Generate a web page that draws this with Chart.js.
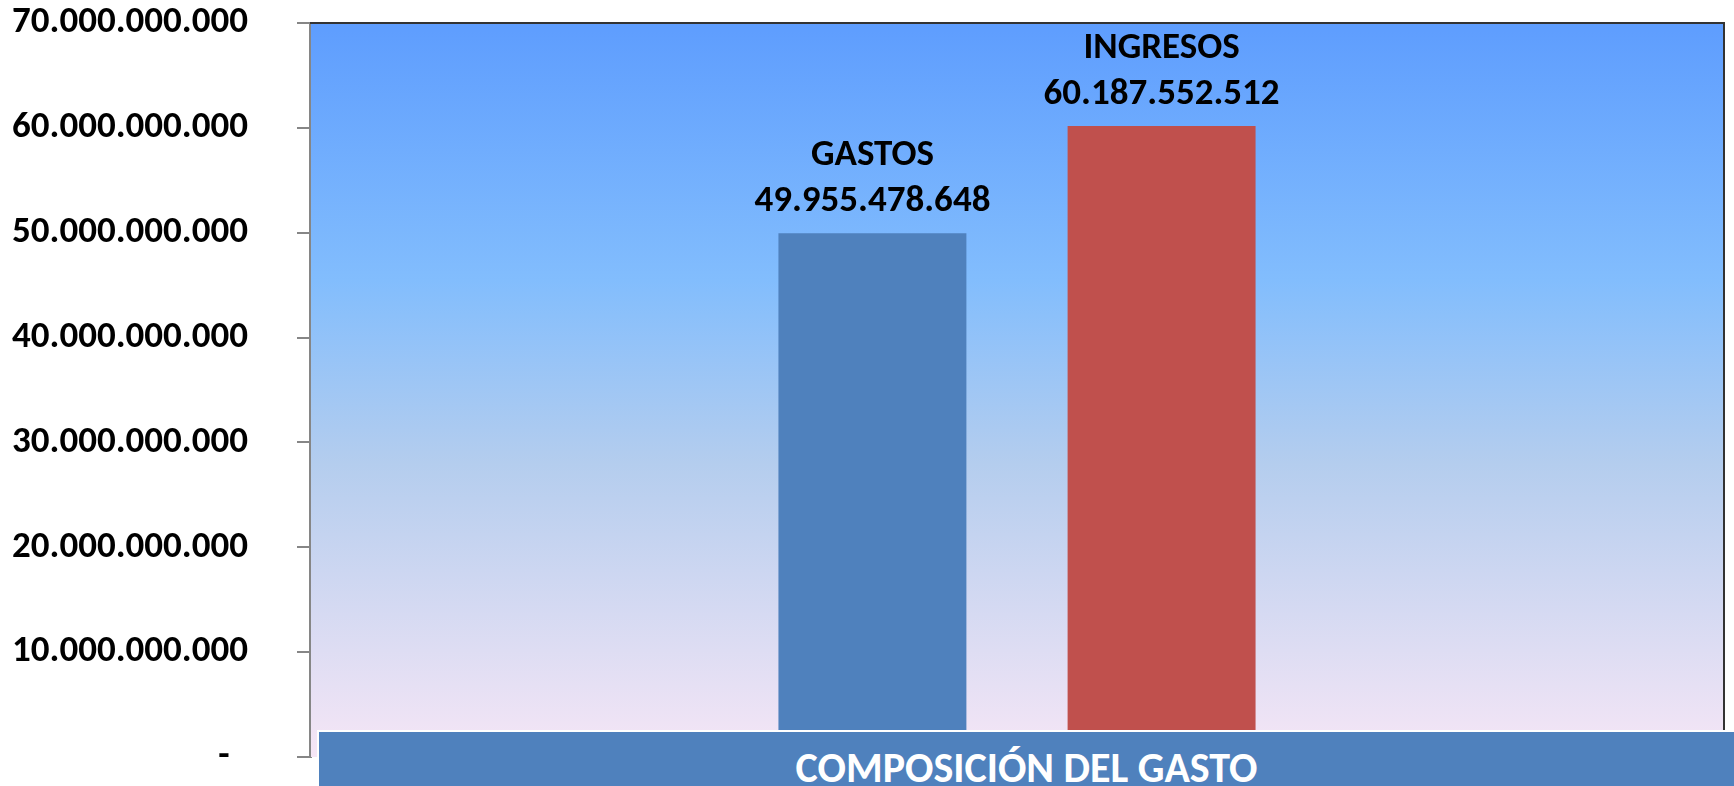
<!DOCTYPE html>
<html>
<head>
    <meta charset="utf-8">
    <title>Composición del gasto</title>
    <style>
        body { margin: 0; background: #ffffff; }
        /* chart box, same size as the window */
        .chart-box {
            position: relative;
            width: 1734px;
            height: 786px;
            overflow: hidden;
        }
        /* blue text box that sits over the bottom of the plot */
        .banner {
            position: absolute;
            left: 317px;
            top: 730px;
            width: 1417px;
            height: 80px;
            background-color: #4f81bd;
            border-top: 2px solid #ffffff;
            border-left: 2px solid #ffffff;
            box-sizing: border-box;
            color: #ffffff;
            font-family: "Carlito", "Open Sans", sans-serif;
            font-weight: bold;
            font-size: 42px;
            line-height: 42px;
            text-align: center;
            padding-top: 15px;
        }
    </style>
</head>
<body>
    <div class="chart-box">
        <canvas id="gasto-chart"></canvas>
        <div class="banner" id="banner"></div>
    </div>

    <script src="https://cdn.jsdelivr.net/npm/chart.js"></script>

    <script>
        // data
        const categories = ['COMPOSICIÓN DEL GASTO'];
        const seriesNames = ['GASTOS', 'INGRESOS'];
        const gastos = [49955478648];
        const ingresos = [60187552512];
        const seriesColors = ['#4f81bd', '#c0504d'];
        const yMax = 70000000000;
        const yStep = 10000000000;

        document.getElementById('banner').textContent = categories[0];

        // format numbers as 70.000.000.000, zero as a dash
        function fmt(v) {
            if (v === 0) return '-\u2002';
            return Math.round(v).toString().replace(/\B(?=(\d{3})+(?!\d))/g, '.');
        }

        // gradient plot background + dark top/right frame
        const plotBackground = {
            id: 'plotBackground',
            beforeDatasetsDraw(chart) {
                const { ctx, chartArea } = chart;
                const { left, top, right, bottom } = chartArea;
                const g = ctx.createLinearGradient(0, top, 0, bottom);
                g.addColorStop(0, '#5e9dfe');
                g.addColorStop(0.35, '#82bdfd');
                g.addColorStop(0.6, '#b4cdee');
                g.addColorStop(1, '#f6e6f6');
                ctx.save();
                ctx.fillStyle = g;
                ctx.fillRect(left + 1, top, right - left - 1, bottom - top);
                ctx.strokeStyle = '#333333';
                ctx.lineWidth = 2;
                ctx.beginPath();
                ctx.moveTo(left, top);
                ctx.lineTo(right, top);
                ctx.lineTo(right, bottom);
                ctx.stroke();
                ctx.restore();
            }
        };

        // series name and value above each bar
        const barLabels = {
            id: 'barLabels',
            afterDatasetsDraw(chart) {
                const ctx = chart.ctx;
                ctx.save();
                ctx.fillStyle = '#000000';
                ctx.font = 'bold 37px Carlito';
                ctx.textAlign = 'center';
                ctx.textBaseline = 'alphabetic';
                chart.data.datasets.forEach((ds, i) => {
                    const meta = chart.getDatasetMeta(i);
                    meta.data.forEach((bar, j) => {
                        ctx.fillText(ds.label, bar.x, bar.y - 68);
                        ctx.fillText(fmt(ds.data[j]), bar.x, bar.y - 22);
                    });
                });
                ctx.restore();
            }
        };

        const ctx = document.getElementById('gasto-chart').getContext('2d');
        new Chart(ctx, {
            type: 'bar',
            data: {
                labels: categories,
                datasets: [
                    {
                        label: seriesNames[0],
                        data: gastos,
                        backgroundColor: seriesColors[0],
                        categoryPercentage: 0.409,
                        barPercentage: 0.65
                    },
                    {
                        label: seriesNames[1],
                        data: ingresos,
                        backgroundColor: seriesColors[1],
                        categoryPercentage: 0.409,
                        barPercentage: 0.65
                    }
                ]
            },
            options: {
                responsive: true,
                maintainAspectRatio: false,
                animation: false,
                layout: {
                    padding: { left: 0, top: 23, right: 10, bottom: 29 }
                },
                plugins: {
                    legend: { display: false },
                    tooltip: { enabled: false }
                },
                scales: {
                    x: {
                        display: false
                    },
                    y: {
                        min: 0,
                        max: yMax,
                        afterFit(scale) {
                            scale.width = 310;
                            // tick padding would also push the plot down, keep it sideways only
                            scale.paddingTop = 0;
                            scale.paddingBottom = 0;
                        },
                        ticks: {
                            stepSize: yStep,
                            padding: 49,
                            color: '#000000',
                            font: { family: 'Carlito', size: 37, weight: 'bold' },
                            callback: (v) => fmt(v)
                        },
                        grid: {
                            drawOnChartArea: false,
                            drawTicks: true,
                            tickLength: 13,
                            color: '#868686',
                            lineWidth: 2
                        },
                        border: { color: '#868686', width: 3 }
                    }
                }
            },
            plugins: [plotBackground, barLabels]
        });
    </script>
</body>
</html>
